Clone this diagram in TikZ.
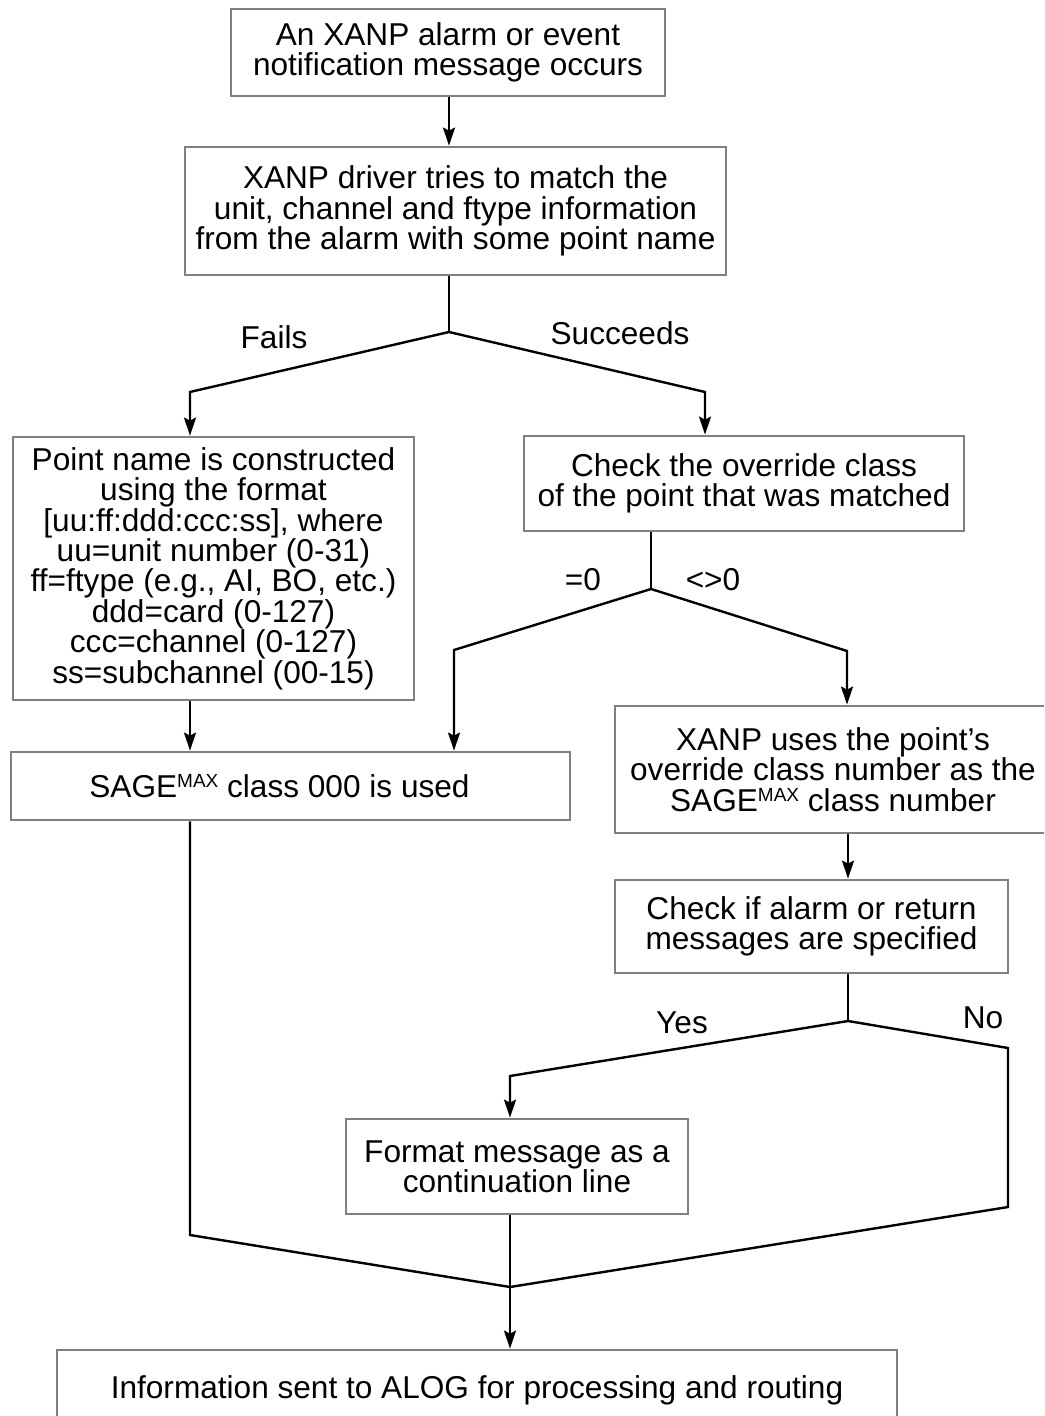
\documentclass[tikz,border=0pt]{standalone}
\usepackage{fontspec}
\setmainfont{Liberation Sans}
\usepackage{tikz}
\usetikzlibrary{arrows.meta}
\definecolor{boxgray}{gray}{0.5}
\newcommand{\maxmark}{\raisebox{0.3em}{\fontsize{9.5}{9.5}\selectfont MAX}}

\begin{document}
\begin{tikzpicture}[
			x=0.5pt, y=-0.5pt,
			box/.style={draw=boxgray, line width=1.4pt, fill=white, align=center, inner sep=0pt, font=\fontsize{15.8}{15.2}\selectfont},
			flow/.style={draw=black, line width=1.2pt, line join=miter},
			arrow/.style={flow, -{Stealth[length=9pt, width=6pt, inset=1.5pt]}},
			lbl/.style={inner sep=0pt, font=\fontsize{15.8}{15.2}\selectfont}
			]
			\useasboundingbox (0,0) rectangle (1044,1416);
			\clip (0,0) rectangle (1044,1416);
			
			%% Boxes
			\node[box, minimum width=217pt, minimum height=43.5pt] (event) at (448,52.5) {An XANP alarm or event\\notification message occurs};
			\node[box, minimum width=270.5pt, minimum height=64pt] (match) at (455.5,211) {XANP driver tries to match the\\unit, channel and ftype information\\from the alarm with some point name};
			\node[box, minimum width=200.5pt, minimum height=131.5pt] (build) at (213.5,568.5) {Point name is constructed\\using the format\\{[}uu:ff:ddd:ccc:ss{]}, where\\uu=unit number (0-31)\\ff=ftype (e.g., AI, BO, etc.)\\ddd=card (0-127)\\ccc=channel (0-127)\\ss=subchannel (00-15)};
			\node[box, minimum width=220pt, minimum height=47.5pt] (override) at (744,483.5) {Check the override class\\of the point that was matched};
			\node[box, minimum width=279.5pt, minimum height=34pt] (default) at (290.5,786) {SAGE\maxmark{} class 000 is used\hspace*{11pt}};
			\node[box, minimum width=218pt, minimum height=63.5pt] (useclass) at (833,769.5) {XANP uses the point’s\\override class number as the\\SAGE\maxmark{} class number};
			\node[box, minimum width=196.5pt, minimum height=46.5pt] (checkmsg) at (811.5,926.5) {Check if alarm or return\\messages are specified};
			\node[box, minimum width=171pt, minimum height=47.5pt] (contline) at (517,1166.5) {Format message as a\\continuation line};
			\node[box, minimum width=420pt, minimum height=40pt] (alog) at (477,1390) {Information sent to ALOG for processing and routing};
			
			%% Bends of the branches
			\coordinate (split1) at (449,332);
			\coordinate (failturn) at (190,392);
			\coordinate (okturn) at (705,392);
			\coordinate (split2) at (651,589);
			\coordinate (zeroturn) at (454,650);
			\coordinate (nzturn) at (847,651);
			\coordinate (split3) at (848,1021);
			\coordinate (yesturn) at (510,1076);
			\coordinate (noturn) at (1008,1048);
			\coordinate (nodown) at (1008,1207);
			\coordinate (defdown) at (190,1235);
			\coordinate (merge) at (510,1287);
			
			%% Connectors
			\draw[arrow] (event.south -| split1) -- (match.north -| split1);
			\draw[flow] (match.south -| split1) -- (split1);
			\draw[arrow] (split1) -- (failturn) -- (build.north -| failturn);
			\draw[arrow] (split1) -- (okturn) -- (override.north -| okturn);
			\draw[flow] (override.south -| split2) -- (split2);
			\draw[arrow] (split2) -- (zeroturn) -- (default.north -| zeroturn);
			\draw[arrow] (split2) -- (nzturn) -- (useclass.north -| nzturn);
			\draw[arrow] (build.south -| failturn) -- (default.north -| failturn);
			\draw[arrow] (useclass.south -| split3) -- (checkmsg.north -| split3);
			\draw[flow] (checkmsg.south -| split3) -- (split3);
			\draw[arrow] (split3) -- (yesturn) -- (contline.north -| yesturn);
			\draw[flow] (split3) -- (noturn) -- (nodown) -- (merge);
			\draw[flow] (default.south -| failturn) -- (defdown) -- (merge);
			\draw[flow] (contline.south -| merge) -- (merge);
			\draw[arrow] (merge) -- (alog.north -| merge);
			
			%% Branch labels
			\node[lbl] (fails) at (274,337) {Fails};
			\node[lbl] (succeeds) at (620,333) {Succeeds};
			\node[lbl] (eqzero) at (583,580) {=0};
			\node[lbl] (nezero) at (713,580) {<>0};
			\node[lbl] (yes) at (682,1023) {Yes};
			\node[lbl] (no) at (983,1018) {No};
			
\end{tikzpicture}
\end{document}
